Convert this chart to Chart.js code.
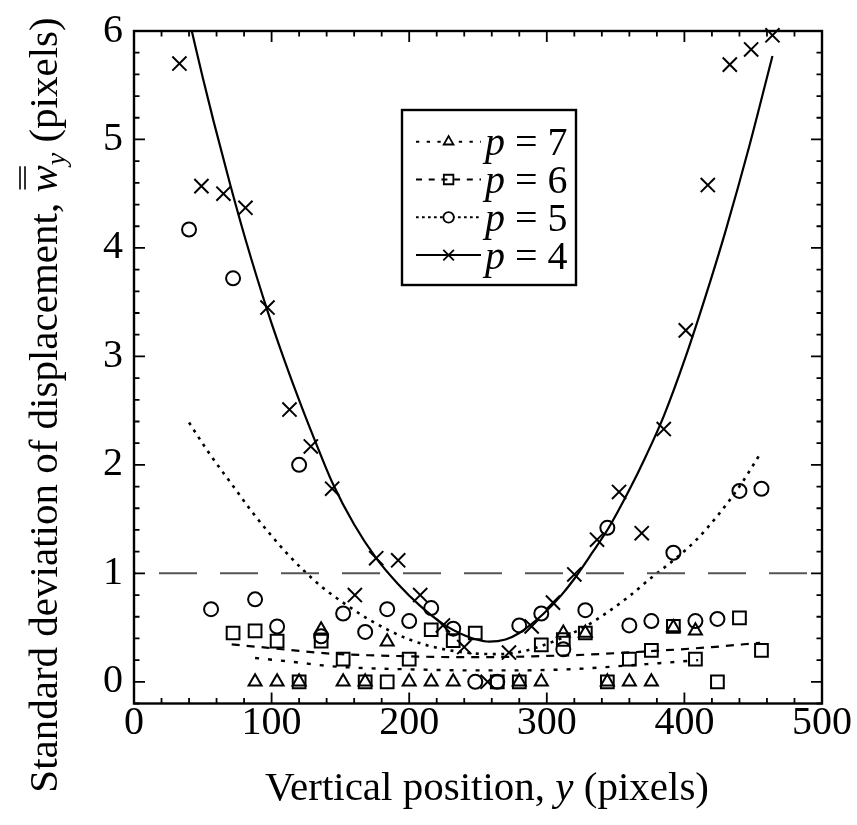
<!DOCTYPE html>
<html><head><meta charset="utf-8">
<script src="https://cdn.jsdelivr.net/npm/chart.js@4.4.1/dist/chart.umd.min.js"></script>
<style>html,body{margin:0;padding:0;background:#fff}
.pre{font-family:"Liberation Serif";position:absolute;left:-9999px}</style>
</head><body>
<span class="pre">a<i>b</i></span>
<canvas id="c" width="857" height="825"></canvas>
<script>
// ---- tick labels ----
const xTickLabels = [0, 100, 200, 300, 400, 500];
const yTickLabels = [0, 1, 2, 3, 4, 5, 6];

// ---- measured points ----
// p = 7 (triangles)
const p7X = [88,104,120,136,152,168,184,200,216,232,280,296,312,328,344,360,376,392,408];
const p7Y = [0,0,0,0.48,0,0,0.37,0,0,0,0,0,0.45,0.45,0,0,0,0.50,0.47];
// p = 6 (squares)
const p6X = [72,88,104,120,136,152,168,184,200,216,232,248,264,280,296,312,328,344,360,376,392,408,424,440,456];
const p6Y = [0.45,0.47,0.375,0,0.375,0.21,0,0,0.21,0.48,0.38,0.45,0,0,0.34,0.39,0.45,0,0.21,0.29,0.51,0.21,0,0.59,0.29];
// p = 5 (circles)
const p5X = [40,56,72,88,104,120,136,152,168,184,200,216,232,248,264,280,296,312,328,344,360,376,392,408,424,440,456];
const p5Y = [4.17,0.67,3.72,0.76,0.51,2.00,0.42,0.63,0.46,0.67,0.56,0.68,0.49,0,0,0.52,0.63,0.30,0.66,1.42,0.52,0.56,1.19,0.56,0.58,1.76,1.78];
// p = 4 (crosses)
const p4X = [33,49,65,81,97,113,128.5,144,160.5,176,192,208,224.5,240,257,272.5,289,304.5,320,336.5,352.5,369,385,401,417,433,448.5,464];
const p4Y = [5.70,4.57,4.50,4.37,3.45,2.51,2.17,1.78,0.80,1.14,1.12,0.80,0.52,0.32,0,0.27,0.51,0.73,0.99,1.31,1.75,1.37,2.33,3.24,4.58,5.69,5.83,5.96];

// ---- fitted curves ----
const c7X = [88,118,142,170,200,249,276,324,358,385,410];
const c7Y = [0.22,0.18,0.145,0.125,0.115,0.105,0.105,0.12,0.15,0.175,0.20];
const c6X = [71,96,120,145,170,200,230,260,290,328,372,420,455];
const c6Y = [0.345,0.315,0.285,0.258,0.245,0.235,0.228,0.228,0.235,0.25,0.28,0.32,0.36];
const c5X = [40,55,70,85,99,110,123,137,152,170,186,200,215,232,249,266,280,296,312,328,344,360,376,392,408,424,440,456];
const c5Y = [2.39,2.10,1.84,1.58,1.36,1.20,1.03,0.87,0.73,0.58,0.47,0.39,0.33,0.285,0.26,0.255,0.275,0.33,0.41,0.51,0.64,0.79,0.96,1.12,1.30,1.53,1.80,2.12];
const c4X = [42,50,58,70,81,97,110,122,131,144,160,176,192,208,225,240,249,258,270,280,297,310,320,333,345,360,372,385,401,418,430,447,464];
const c4Y = [6.0,5.57,5.16,4.58,4.08,3.42,2.94,2.53,2.24,1.84,1.45,1.14,0.90,0.70,0.53,0.43,0.39,0.37,0.39,0.45,0.62,0.79,0.95,1.19,1.42,1.77,2.08,2.45,3.0,3.66,4.16,4.93,5.77];
// reference level
const refX = [0, 500];
const refY = [1, 1];

const seriesNames = ['p = 7', 'p = 6', 'p = 5', 'p = 4'];

const zip = (xs, ys) => xs.map((x, i) => ({x, y: ys[i]}));
const FAM = '"Liberation Serif", "Times New Roman", Times, serif';

const curveDash = {7: [4, 9], 6: [8, 7], 5: [3, 5.5], 4: []};
const curveWidth = {7: 2.4, 6: 2.2, 5: 2.6, 4: 2.2};
const legendDash = {7: [3.3, 7.4], 6: [6, 6.7], 5: [2.7, 3.3], 4: []};
const markerStyle = {7: ['triangle', 7.5], 6: ['rect', 9], 5: ['circle', 7], 4: ['crossRot', 10]};

function curve(xs, ys, p) {
  return {type: 'line', data: zip(xs, ys), borderColor: '#000', borderWidth: curveWidth[p],
    borderDash: curveDash[p], pointRadius: 0, fill: false, cubicInterpolationMode: 'monotone'};
}
function pts(xs, ys, p) {
  return {type: 'scatter', data: zip(xs, ys), showLine: false, pointStyle: markerStyle[p][0],
    pointRadius: markerStyle[p][1], borderColor: '#000', backgroundColor: 'rgba(0,0,0,0)',
    pointBorderWidth: 2, clip: false};
}

const datasets = [
  {type: 'line', data: zip(refX, refY), borderColor: '#555', borderWidth: 2, borderDash: [38, 23],
   borderDashOffset: -25, pointRadius: 0, fill: false},
  curve(c7X, c7Y, 7),
  curve(c6X, c6Y, 6),
  curve(c5X, c5Y, 5),
  curve(c4X, c4Y, 4),
  pts(p7X, p7Y, 7), pts(p6X, p6Y, 6), pts(p5X, p5Y, 5), pts(p4X, p4Y, 4)
];

const framePlugin = {
  id: 'frame',
  afterDraw(chart) {
    const {ctx, chartArea: a, scales: {x, y}} = chart;
    ctx.save();
    ctx.strokeStyle = '#000';
    ctx.lineWidth = 2.4;
    ctx.strokeRect(a.left, a.top, a.right - a.left, a.bottom - a.top);
    ctx.lineWidth = 1.8;
    ctx.beginPath();
    for (let k = 0; k <= 25; k++) {
      const px = x.getPixelForValue(k * 20);
      const L = k % 5 === 0 ? 11 : 5.5;
      ctx.moveTo(px, a.bottom); ctx.lineTo(px, a.bottom - L);
      ctx.moveTo(px, a.top); ctx.lineTo(px, a.top + L);
    }
    for (let k = -1; k <= 30; k++) {
      const py = y.getPixelForValue(k * 0.2);
      const L = k % 5 === 0 ? 11 : 5.5;
      ctx.moveTo(a.left, py); ctx.lineTo(a.left + L, py);
      ctx.moveTo(a.right, py); ctx.lineTo(a.right - L, py);
    }
    ctx.stroke();

    // legend
    const bx = a.left + 268, by = a.top + 79, bw = 174, bh = 175;
    ctx.fillStyle = '#fff';
    ctx.fillRect(bx, by, bw, bh);
    ctx.lineWidth = 2.4;
    ctx.strokeRect(bx, by, bw, bh);
    const rows = [7, 6, 5, 4];
    rows.forEach((p, i) => {
      const ry = by + 31.7 + i * 37.8;
      ctx.save();
      ctx.lineWidth = 2;
      ctx.setLineDash(legendDash[p]);
      ctx.beginPath();
      ctx.moveTo(bx + 14, ry); ctx.lineTo(bx + 79, ry);
      ctx.stroke();
      ctx.restore();
      ctx.save();
      ctx.lineWidth = 1.8;
      ctx.strokeStyle = '#000';
      ctx.fillStyle = 'rgba(0,0,0,0)';
      if (p === 7 || p === 5) { ctx.fillStyle = '#fff'; }
      Chart.helpers.drawPoint(ctx, {pointStyle: markerStyle[p][0], radius: markerStyle[p][1] * 0.75, rotation: 0, borderWidth: 1.8}, bx + 46.6, ry);
      ctx.restore();
      ctx.fillStyle = '#000';
      ctx.textBaseline = 'alphabetic';
      ctx.textAlign = 'left';
      const name = seriesNames[i];
      ctx.font = 'italic 40px ' + FAM;
      const head = name.slice(0, 1);
      ctx.fillText(head, bx + 83, ry + 13.5);
      const w0 = ctx.measureText(head).width;
      ctx.font = '40px ' + FAM;
      ctx.fillText(name.slice(1), bx + 83 + w0, ry + 13.5);
    });

    // axis titles
    function drawRuns(runs, cx, baseY) {
      let total = 0;
      runs.forEach(r => { ctx.font = r.font; r.w = ctx.measureText(r.t).width; total += r.w; });
      let xx = cx - total / 2;
      runs.forEach(r => {
        ctx.font = r.font;
        ctx.fillText(r.t, xx, baseY + (r.dy || 0));
        if (r.bars) {
          ctx.save(); ctx.lineWidth = 1.6; ctx.strokeStyle = '#000';
          ctx.beginPath();
          r.bars.forEach(b => { ctx.moveTo(xx + 3, baseY - b); ctx.lineTo(xx + r.w - 1, baseY - b); });
          ctx.stroke(); ctx.restore();
        }
        xx += r.w;
      });
    }
    ctx.fillStyle = '#000';
    ctx.textAlign = 'left';
    ctx.textBaseline = 'alphabetic';
    const R = '41px ' + FAM, I = 'italic 41px ' + FAM, S = 'italic 28px ' + FAM;
    drawRuns([{t: 'Vertical position, ', font: R}, {t: 'y', font: I}, {t: ' (pixels)', font: R}], 487, 800);
    ctx.save();
    ctx.translate(57, 405);
    ctx.rotate(-Math.PI / 2);
    drawRuns([{t: 'Standard deviation of displacement, ', font: R}, {t: 'w', font: I, bars: [32, 37]},
      {t: 'y', font: S, dy: 8}, {t: ' (pixels)', font: R}], 0, 0);
    ctx.restore();
    ctx.restore();
  }
};

function build() {
  new Chart(document.getElementById('c'), {
    data: {datasets},
    options: {
      responsive: false,
      animation: false,
      devicePixelRatio: 1,
      layout: {padding: {top: 16, right: 35, left: 0, bottom: 0}},
      plugins: {legend: {display: false}, tooltip: {enabled: false}},
      scales: {
        x: {
          type: 'linear', min: 0, max: 500,
          grid: {display: false, drawTicks: false}, border: {display: false},
          afterBuildTicks: s => { s.ticks = xTickLabels.map(v => ({value: v})); },
          afterFit: s => { s.height = 121.5; },
          ticks: {color: '#000', padding: 0, maxRotation: 0, font: {family: FAM, size: 40, lineHeight: 1}}
        },
        y: {
          type: 'linear', min: -0.2, max: 6,
          grid: {display: false, drawTicks: false}, border: {display: false},
          afterBuildTicks: s => { s.ticks = yTickLabels.map(v => ({value: v})); },
          afterFit: s => { s.width = 134; },
          ticks: {color: '#000', padding: 11, font: {family: FAM, size: 40, lineHeight: 1}}
        }
      }
    },
    plugins: [framePlugin]
  });
}
Promise.all([
  document.fonts.load('40px "Liberation Serif"'),
  document.fonts.load('italic 40px "Liberation Serif"')
]).then(build, build);
</script>
</body></html>
